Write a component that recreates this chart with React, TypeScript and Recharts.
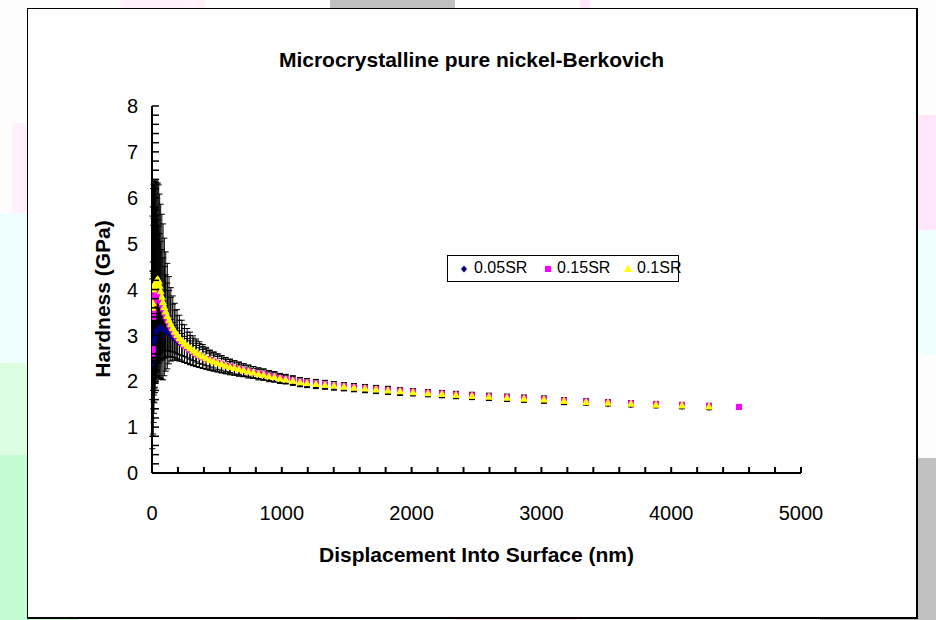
import React from 'react';
import { ScatterChart, Scatter, XAxis, YAxis, ErrorBar, Legend } from 'recharts';

// ---------- data ----------
const displacement = [
  3, 6, 9, 12, 15, 19, 23, 28, 33, 39,
  45, 52, 59, 67, 76, 85, 95, 106, 118, 131,
  145, 160, 176, 193, 211, 230, 250, 271, 293, 316,
  340, 365, 391, 418, 446, 475, 505, 536, 568, 601,
  635, 670, 706, 743, 781, 820, 860, 901, 943, 986,
  1030, 1085, 1140, 1194, 1263, 1333, 1402, 1479, 1556, 1641,
  1726, 1818, 1911, 2011, 2126, 2234, 2342, 2465, 2596, 2735,
  2866, 3020, 3174, 3344, 3513, 3690, 3883, 4083, 4291,
];
const displacementPink = [...displacement, 4522];

const hardness005 = [
  2.38, 2.6, 2.6, 2.7, 2.8, 2.88, 2.95, 3.02, 3.07, 3.11,
  3.14, 3.16, 3.17, 3.17, 3.16, 3.14, 3.12, 3.1, 3.07, 3.04,
  3.0, 2.96, 2.92, 2.88, 2.84, 2.8, 2.76, 2.72, 2.68, 2.64,
  2.6, 2.56, 2.53, 2.49, 2.46, 2.43, 2.4, 2.37, 2.34, 2.31,
  2.28, 2.26, 2.23, 2.21, 2.18, 2.16, 2.13, 2.11, 2.09, 2.06,
  2.04, 2.01, 1.97, 1.94, 1.92, 1.9, 1.88, 1.86, 1.84, 1.82,
  1.8, 1.78, 1.76, 1.74, 1.72, 1.7, 1.68, 1.66, 1.64, 1.62,
  1.6, 1.58, 1.55, 1.53, 1.51, 1.49, 1.47, 1.45, 1.43,
];
const error005 = [
  1.85, 1.8, 1.75, 1.6, 1.5, 1.35, 1.2, 1.05, 0.95, 0.85,
  0.75, 0.68, 0.6, 0.55, 0.5, 0.47, 0.45, 0.43, 0.41, 0.38,
  0.35, 0.32, 0.3, 0.28, 0.26, 0.24, 0.22, 0.21, 0.2, 0.19,
  0.18, 0.17, 0.16, 0.15, 0.15, 0.14, 0.14, 0.13, 0.13, 0.12,
  0.12, 0.11, 0.11, 0.1, 0.1, 0.1, 0.09, 0.09, 0.09, 0.09,
  0.08, 0.08, 0.08, 0.08, 0.08, 0.07, 0.07, 0.07, 0.07, 0.07,
  0.07, 0.07, 0.07, 0.06, 0.06, 0.06, 0.06, 0.06, 0.06, 0.06,
  0.06, 0.06, 0.06, 0.05, 0.05, 0.05, 0.05, 0.05, 0.05,
];

const hardness015 = [
  2.6, 2.7, 3.4, 3.55, 3.7, 3.8, 3.85, 3.9, 3.92, 3.93,
  3.92, 3.88, 3.82, 3.75, 3.67, 3.59, 3.5, 3.42, 3.34, 3.26,
  3.18, 3.1, 3.03, 2.96, 2.9, 2.84, 2.78, 2.73, 2.68, 2.64,
  2.6, 2.56, 2.52, 2.49, 2.46, 2.43, 2.4, 2.37, 2.34, 2.32,
  2.29, 2.27, 2.24, 2.22, 2.19, 2.17, 2.15, 2.12, 2.1, 2.07,
  2.05, 2.02, 1.99, 1.97, 1.95, 1.93, 1.91, 1.89, 1.87, 1.85,
  1.83, 1.81, 1.79, 1.77, 1.75, 1.73, 1.71, 1.69, 1.67, 1.65,
  1.63, 1.61, 1.58, 1.56, 1.54, 1.52, 1.5, 1.48, 1.46, 1.44,
];
const error015 = [
  1.8, 1.9, 2.0, 2.0, 2.0, 1.95, 1.9, 1.85, 1.8, 1.7,
  1.6, 1.5, 1.4, 1.3, 1.2, 1.1, 1.0, 0.9, 0.8, 0.72,
  0.65, 0.58, 0.52, 0.47, 0.43, 0.4, 0.37, 0.34, 0.32, 0.3,
  0.28, 0.26, 0.24, 0.22, 0.21, 0.2, 0.19, 0.18, 0.17, 0.16,
  0.15, 0.15, 0.14, 0.13, 0.13, 0.12, 0.12, 0.11, 0.11, 0.1,
  0.1, 0.1, 0.09, 0.09, 0.09, 0.09, 0.08, 0.08, 0.08, 0.08,
  0.08, 0.08, 0.07, 0.07, 0.07, 0.07, 0.07, 0.07, 0.07, 0.07,
  0.07, 0.07, 0.06, 0.06, 0.06, 0.06, 0.06, 0.06, 0.06, 0.05,
];

const hardness01 = [
  3.6, 3.7, 4.0, 4.05, 4.05, 4.1, 4.12, 4.15, 4.18, 4.2,
  4.22, 4.18, 4.08, 3.96, 3.84, 3.73, 3.62, 3.52, 3.42, 3.33,
  3.24, 3.16, 3.08, 3.01, 2.94, 2.88, 2.82, 2.77, 2.72, 2.67,
  2.62, 2.58, 2.54, 2.5, 2.46, 2.43, 2.4, 2.37, 2.34, 2.31,
  2.29, 2.26, 2.24, 2.21, 2.19, 2.16, 2.14, 2.11, 2.09, 2.06,
  2.04, 2.01, 1.98, 1.96, 1.94, 1.92, 1.9, 1.88, 1.86, 1.84,
  1.82, 1.8, 1.78, 1.76, 1.74, 1.72, 1.7, 1.68, 1.66, 1.64,
  1.62, 1.6, 1.57, 1.55, 1.53, 1.51, 1.49, 1.47, 1.45,
];
const error01 = [
  2.0, 2.1, 2.2, 2.25, 2.3, 2.3, 2.25, 2.2, 2.15, 2.1,
  2.1, 2.1, 2.0, 1.9, 1.8, 1.7, 1.5, 1.3, 1.15, 0.95,
  0.8, 0.7, 0.62, 0.55, 0.5, 0.45, 0.41, 0.38, 0.35, 0.32,
  0.3, 0.28, 0.26, 0.24, 0.22, 0.21, 0.2, 0.19, 0.18, 0.17,
  0.16, 0.15, 0.14, 0.14, 0.13, 0.13, 0.12, 0.12, 0.11, 0.11,
  0.1, 0.1, 0.1, 0.09, 0.09, 0.09, 0.09, 0.08, 0.08, 0.08,
  0.08, 0.08, 0.08, 0.07, 0.07, 0.07, 0.07, 0.07, 0.07, 0.07,
  0.07, 0.07, 0.07, 0.06, 0.06, 0.06, 0.06, 0.06, 0.06,
];

const xTicks = [
  0, 200, 400, 600, 800, 1000, 1200, 1400, 1600, 1800, 2000, 2200, 2400,
  2600, 2800, 3000, 3200, 3400, 3600, 3800, 4000, 4200, 4400, 4600, 4800, 5000,
];
const xTickLabels = [0, 1000, 2000, 3000, 4000, 5000];
const yTicks = [
  0, 0.2, 0.4, 0.6, 0.8, 1, 1.2, 1.4, 1.6, 1.8, 2, 2.2, 2.4, 2.6, 2.8,
  3, 3.2, 3.4, 3.6, 3.8, 4, 4.2, 4.4, 4.6, 4.8, 5, 5.2, 5.4, 5.6, 5.8,
  6, 6.2, 6.4, 6.6, 6.8, 7, 7.2, 7.4, 7.6, 7.8, 8,
];
const yTickLabels = [0, 1, 2, 3, 4, 5, 6, 7, 8];

const seriesNames = ['0.05SR', '0.15SR', '0.1SR'];
const titleText = 'Microcrystalline pure nickel-Berkovich';
const xTitle = 'Displacement Into Surface (nm)';
const yTitle = 'Hardness (GPa)';

const build = (xs: number[], ys: number[], es: number[]) =>
  ys.map((y, i) => ({ x: xs[i], y, err: es[i] }));

const data005 = build(displacement, hardness005, error005);
const data015 = build(displacementPink, hardness015, error015);
const data01 = build(displacement, hardness01, error01);

// ---------- styling ----------
const FONT = '"Liberation Sans", Arial, Helvetica, sans-serif';
const NAVY = '#000080';
const MAGENTA = '#FF00FF';
const YELLOW = '#FFFF00';

const Diamond = (p: any) => {
  const { cx, cy } = p;
  if (cx == null || cy == null) return null;
  return (
    <polygon
      points={`${cx},${cy - 3.5} ${cx + 3},${cy} ${cx},${cy + 3.5} ${cx - 3},${cy}`}
      fill={NAVY}
    />
  );
};
const Square = (p: any) => {
  const { cx, cy } = p;
  if (cx == null || cy == null) return null;
  return <rect x={cx - 3} y={cy - 3} width={6} height={6} fill={MAGENTA} />;
};
const Triangle = (p: any) => {
  const { cx, cy } = p;
  if (cx == null || cy == null) return null;
  return (
    <polygon
      points={`${cx},${cy - 4.5} ${cx + 4},${cy + 3} ${cx - 4},${cy + 3}`}
      fill={YELLOW}
    />
  );
};

const XTick = (props: any) => {
  const { x, y, payload } = props;
  const v = payload.value;
  const show = xTickLabels.includes(v);
  return (
    <g>
      <line x1={x} y1={y} x2={x} y2={y - 6} stroke="#000" strokeWidth={2} />
      {show && (
        <text x={x} y={y + 47} textAnchor="middle" fontSize={20} fontFamily={FONT} fill="#000">
          {v}
        </text>
      )}
    </g>
  );
};

const YTick = (props: any) => {
  const { x, y, payload } = props;
  const v = payload.value;
  const show = yTickLabels.some((t) => Math.abs(t - v) < 1e-6);
  return (
    <g>
      <line x1={x} y1={y} x2={x + 7} y2={y} stroke="#000" strokeWidth={1.5} />
      {show && (
        <text x={x - 14} y={y} dy="0.36em" textAnchor="end" fontSize={20} fontFamily={FONT} fill="#000">
          {v}
        </text>
      )}
    </g>
  );
};

const markerFor = (i: number, cx: number, cy: number) => {
  if (i === 0) return <Diamond cx={cx} cy={cy} />;
  if (i === 1) return <Square cx={cx} cy={cy} />;
  return <Triangle cx={cx} cy={cy} />;
};

const legendMarkerX = [16, 100, 180];
const legendTextX = [26, 109, 189];

const LegendBox = (props: any) => {
  const payload = props.payload || [];
  return (
    <div
      style={{
        position: 'relative',
        width: 232,
        height: 27,
        border: '1px solid #000',
        boxSizing: 'border-box',
        background: '#fff',
        fontFamily: FONT,
        fontSize: 16,
        color: '#000',
      }}
    >
      <svg width={230} height={25} style={{ position: 'absolute', left: 0, top: 0 }}>
        {payload.map((entry: any, i: number) => (
          <g key={i}>{markerFor(i, legendMarkerX[i], 13)}</g>
        ))}
      </svg>
      {payload.map((entry: any, i: number) => (
        <span
          key={i}
          style={{ position: 'absolute', left: legendTextX[i], top: 3, lineHeight: '18px', whiteSpace: 'nowrap' }}
        >
          {entry.value}
        </span>
      ))}
    </div>
  );
};

const XLabel = (props: any) => {
  const vb = props.viewBox || {};
  return (
    <text
      x={vb.x + vb.width / 2}
      y={vb.y + 89}
      textAnchor="middle"
      fontSize={21}
      fontWeight="bold"
      fontFamily={FONT}
      fill="#000"
    >
      {xTitle}
    </text>
  );
};

const YLabel = () => (
  <text
    x={102}
    y={299}
    transform="rotate(-90 102 299)"
    textAnchor="middle"
    dy="0.36em"
    fontSize={21}
    fontWeight="bold"
    fontFamily={FONT}
    fill="#000"
  >
    {yTitle}
  </text>
);

const bgBlocks = [
  { left: 12, top: 123, width: 15, height: 90, background: '#fff0fb' },
  { left: 0, top: 213, width: 27, height: 150, background: '#eefffd' },
  { left: 0, top: 363, width: 27, height: 92, background: '#dcfde2' },
  { left: 0, top: 455, width: 27, height: 165, background: '#c3fbd3' },
  { left: 0, top: 617, width: 78, height: 3, background: '#c3fbd3' },
  { left: 330, top: 617, width: 123, height: 3, background: '#eefffd' },
  { left: 453, top: 617, width: 129, height: 3, background: '#ffe6f0' },
  { left: 820, top: 617, width: 116, height: 3, background: '#c0c0c0' },
  { left: 918, top: 115, width: 18, height: 115, background: '#ffe6fa' },
  { left: 918, top: 230, width: 18, height: 125, background: '#effffe' },
  { left: 918, top: 458, width: 18, height: 162, background: '#c0c0c0' },
  { left: 120, top: 0, width: 85, height: 8, background: '#fff0fb' },
  { left: 330, top: 0, width: 125, height: 8, background: '#c0c0c0' },
  { left: 580, top: 0, width: 10, height: 8, background: '#ffe6fa' },
];

export default function App() {
  return (
    <div style={{ position: 'absolute', left: 0, top: 0, width: 936, height: 620, background: '#fdfdfd', overflow: 'hidden' }}>
      {bgBlocks.map((b, i) => (
        <div key={i} style={{ position: 'absolute', ...b }} />
      ))}
      <div
        style={{
          position: 'absolute',
          left: 27,
          top: 8,
          width: 888,
          height: 608,
          background: '#fff',
          borderTop: '1px solid #000',
          borderLeft: '1px solid #000',
          borderRight: '2px solid #000',
          borderBottom: '2px solid #000',
        }}
      />
      <div
        style={{
          position: 'absolute',
          left: 27,
          top: 47,
          width: 889,
          textAlign: 'center',
          fontFamily: FONT,
          fontWeight: 'bold',
          fontSize: 21,
          lineHeight: '26px',
          color: '#000',
        }}
      >
        {titleText}
      </div>
      <div style={{ position: 'absolute', left: 0, top: 0 }}>
        <ScatterChart
          width={936}
          height={620}
          margin={{ top: 106, right: 135, bottom: 87, left: 92 }}
        >
          <XAxis
            type="number"
            dataKey="x"
            domain={[0, 5000]}
            ticks={xTicks}
            interval={0}
            allowDataOverflow
            height={60}
            tickSize={0}
            tickMargin={0}
            tickLine={false}
            axisLine={{ stroke: '#000', strokeWidth: 2 }}
            tick={(p: any) => <XTick {...p} />}
            label={{ content: (p: any) => <XLabel {...p} /> }}
          />
          <YAxis
            type="number"
            dataKey="y"
            domain={[0, 8]}
            ticks={yTicks}
            interval={0}
            allowDataOverflow
            width={60}
            tickSize={0}
            tickMargin={0}
            tickLine={false}
            axisLine={{ stroke: '#000', strokeWidth: 2 }}
            tick={(p: any) => <YTick {...p} />}
            label={{ content: () => <YLabel /> }}
          />
          <Legend
            layout="horizontal"
            align="center"
            verticalAlign="middle"
            wrapperStyle={{ position: 'absolute', left: 447, top: 255, width: 232, height: 27 }}
            content={(p: any) => <LegendBox {...p} />}
          />
          <Scatter name={seriesNames[0]} data={data005} fill={NAVY} shape={Diamond} isAnimationActive={false}>
            <ErrorBar dataKey="err" direction="y" width={3} stroke="#000" strokeWidth={1} isAnimationActive={false} />
          </Scatter>
          <Scatter name={seriesNames[1]} data={data015} fill={MAGENTA} shape={Square} isAnimationActive={false}>
            <ErrorBar dataKey="err" direction="y" width={3} stroke="#000" strokeWidth={1} isAnimationActive={false} />
          </Scatter>
          <Scatter name={seriesNames[2]} data={data01} fill={YELLOW} shape={Triangle} isAnimationActive={false}>
            <ErrorBar dataKey="err" direction="y" width={3} stroke="#000" strokeWidth={1} isAnimationActive={false} />
          </Scatter>
        </ScatterChart>
      </div>
    </div>
  );
}
